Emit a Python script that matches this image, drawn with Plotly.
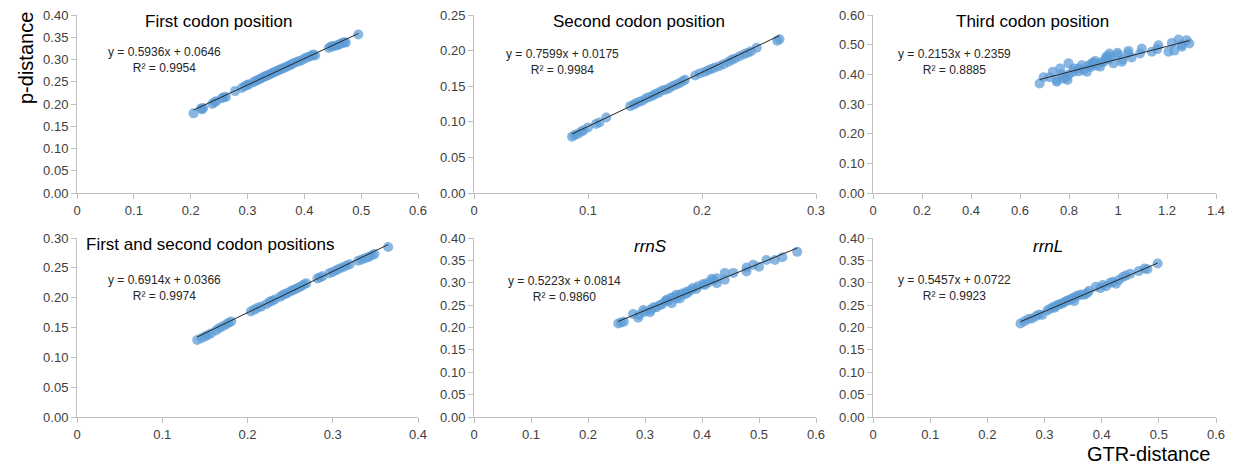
import plotly.graph_objects as go

# ---------------- data ----------------
titles = ["First codon position", "Second codon position", "Third codon position",
          "First and second codon positions", "<i>rrnS</i>", "<i>rrnL</i>"]
slopes = [0.5936, 0.7599, 0.2153, 0.6914, 0.5223, 0.5457]
intercepts = [0.0646, 0.0175, 0.2359, 0.0366, 0.0814, 0.0722]
r2_values = ["0.9954", "0.9984", "0.8885", "0.9974", "0.9860", "0.9923"]
x_max = [0.6, 0.3, 1.4, 0.4, 0.6, 0.6]
x_dtick = [0.1, 0.1, 0.2, 0.1, 0.1, 0.1]
y_max = [0.40, 0.25, 0.60, 0.30, 0.40, 0.40]
y_dtick = [0.05, 0.05, 0.10, 0.05, 0.05, 0.05]

x1 = [0.205, 0.218, 0.220, 0.222, 0.238, 0.242, 0.245, 0.255, 0.258, 0.262, 0.278, 0.290, 0.295, 0.300,
      0.302, 0.310, 0.315, 0.318, 0.322, 0.326, 0.330, 0.333, 0.336, 0.340, 0.343, 0.346, 0.350, 0.353,
      0.356, 0.360, 0.364, 0.368, 0.372, 0.376, 0.380, 0.385, 0.390, 0.395, 0.400, 0.405, 0.410, 0.413,
      0.416, 0.419, 0.443, 0.447, 0.450, 0.455, 0.460, 0.463, 0.467, 0.470, 0.473, 0.495]
y1 = [0.179, 0.190, 0.188, 0.191, 0.200, 0.204, 0.206, 0.213, 0.215, 0.216, 0.229, 0.236, 0.240, 0.243,
      0.244, 0.249, 0.252, 0.254, 0.256, 0.259, 0.262, 0.263, 0.265, 0.267, 0.269, 0.271, 0.273, 0.275,
      0.277, 0.279, 0.281, 0.283, 0.286, 0.288, 0.291, 0.294, 0.296, 0.298, 0.302, 0.305, 0.307, 0.309,
      0.311, 0.309, 0.326, 0.329, 0.330, 0.331, 0.333, 0.335, 0.337, 0.339, 0.338, 0.356]

x2 = [0.086, 0.088, 0.091, 0.094, 0.096, 0.100, 0.107, 0.110, 0.116, 0.137, 0.140, 0.142, 0.145, 0.148,
      0.151, 0.154, 0.157, 0.159, 0.162, 0.165, 0.168, 0.171, 0.174, 0.177, 0.180, 0.183, 0.185, 0.194,
      0.198, 0.202, 0.205, 0.208, 0.211, 0.215, 0.219, 0.223, 0.226, 0.229, 0.233, 0.237, 0.240, 0.243,
      0.248, 0.266, 0.268]
y2 = [0.079, 0.081, 0.083, 0.086, 0.088, 0.092, 0.097, 0.099, 0.106, 0.122, 0.124, 0.126, 0.128, 0.130,
      0.133, 0.135, 0.137, 0.139, 0.141, 0.144, 0.145, 0.147, 0.150, 0.152, 0.154, 0.157, 0.159, 0.165,
      0.168, 0.170, 0.172, 0.174, 0.176, 0.178, 0.181, 0.184, 0.187, 0.189, 0.192, 0.195, 0.197, 0.199,
      0.204, 0.214, 0.216]

x3 = [0.680, 0.696, 0.734, 0.750, 0.764, 0.777, 0.798, 0.794, 0.818, 0.839, 0.853, 0.873, 0.893, 0.907,
      0.927, 0.941, 0.954, 0.965, 0.981, 0.998, 1.015, 1.043, 1.056, 1.097, 1.090, 1.138, 1.165, 1.206,
      1.220, 1.247, 1.260, 1.291, 1.280, 0.820, 0.860, 0.880, 0.900, 0.910, 0.930, 0.950, 0.960, 0.970,
      1.000, 1.020, 1.040, 0.770, 0.750, 0.720, 0.790, 0.800, 0.840, 0.890, 1.160, 1.230, 1.260]
y3 = [0.369, 0.390, 0.409, 0.375, 0.420, 0.386, 0.437, 0.381, 0.409, 0.420, 0.431, 0.409, 0.437, 0.445,
      0.426, 0.442, 0.461, 0.470, 0.437, 0.473, 0.442, 0.479, 0.457, 0.487, 0.470, 0.476, 0.498, 0.476,
      0.506, 0.517, 0.493, 0.504, 0.515, 0.420, 0.415, 0.430, 0.440, 0.430, 0.440, 0.455, 0.450, 0.460,
      0.465, 0.450, 0.470, 0.400, 0.380, 0.390, 0.390, 0.400, 0.410, 0.425, 0.485, 0.480, 0.500]

x4 = [0.141, 0.146, 0.150, 0.153, 0.157, 0.163, 0.167, 0.171, 0.175, 0.178, 0.181, 0.204, 0.208, 0.212,
      0.216, 0.222, 0.226, 0.229, 0.232, 0.238, 0.241, 0.244, 0.247, 0.251, 0.254, 0.257, 0.260, 0.263,
      0.266, 0.269, 0.282, 0.285, 0.288, 0.296, 0.300, 0.304, 0.308, 0.312, 0.316, 0.320, 0.330, 0.334,
      0.338, 0.342, 0.346, 0.349, 0.365]
y4 = [0.129, 0.132, 0.135, 0.137, 0.140, 0.145, 0.149, 0.152, 0.155, 0.158, 0.160, 0.177, 0.180, 0.183,
      0.185, 0.189, 0.193, 0.195, 0.197, 0.201, 0.204, 0.206, 0.208, 0.211, 0.213, 0.215, 0.217, 0.219,
      0.222, 0.224, 0.232, 0.234, 0.236, 0.241, 0.243, 0.246, 0.249, 0.251, 0.254, 0.256, 0.262, 0.264,
      0.266, 0.268, 0.271, 0.273, 0.285]

x5 = [0.253, 0.263, 0.279, 0.288, 0.297, 0.309, 0.315, 0.326, 0.338, 0.347, 0.355, 0.361, 0.373, 0.384,
      0.393, 0.402, 0.417, 0.426, 0.426, 0.440, 0.440, 0.455, 0.478, 0.478, 0.490, 0.500, 0.513, 0.528,
      0.541, 0.567, 0.320, 0.330, 0.335, 0.340, 0.345, 0.350, 0.355, 0.360, 0.365, 0.370, 0.375, 0.380,
      0.390, 0.405, 0.410, 0.420, 0.300, 0.310, 0.290, 0.258]
y5 = [0.209, 0.213, 0.230, 0.222, 0.239, 0.234, 0.245, 0.250, 0.262, 0.254, 0.273, 0.265, 0.280, 0.288,
      0.292, 0.297, 0.309, 0.310, 0.299, 0.322, 0.307, 0.322, 0.334, 0.325, 0.340, 0.336, 0.351, 0.351,
      0.357, 0.369, 0.245, 0.252, 0.258, 0.260, 0.266, 0.268, 0.265, 0.272, 0.276, 0.274, 0.278, 0.283,
      0.286, 0.295, 0.300, 0.305, 0.235, 0.240, 0.228, 0.211]

x6 = [0.258, 0.265, 0.272, 0.278, 0.285, 0.290, 0.296, 0.305, 0.310, 0.315, 0.318, 0.322, 0.326, 0.330,
      0.334, 0.338, 0.342, 0.346, 0.350, 0.352, 0.355, 0.360, 0.365, 0.370, 0.375, 0.378, 0.390, 0.398,
      0.402, 0.408, 0.415, 0.420, 0.425, 0.430, 0.437, 0.442, 0.450, 0.465, 0.475, 0.480, 0.498]
y6 = [0.209, 0.214, 0.219, 0.220, 0.225, 0.229, 0.228, 0.238, 0.242, 0.246, 0.244, 0.250, 0.252, 0.253,
      0.256, 0.259, 0.261, 0.263, 0.266, 0.259, 0.270, 0.272, 0.274, 0.273, 0.277, 0.282, 0.291, 0.288,
      0.295, 0.292, 0.300, 0.302, 0.298, 0.306, 0.313, 0.316, 0.320, 0.326, 0.332, 0.330, 0.343]

xs = [x1, x2, x3, x4, x5, x6]
ys = [y1, y2, y3, y4, y5, y6]

# ---------------- layout geometry (screen pixels) ----------------
W, H = 1237, 466
col_px = [(77, 418), (474, 816), (873, 1216)]
row_px = [(15, 193), (238, 417)]
eq_cx = [164, 562, 955, 164, 564, 955]
eq_y = [51, 53, 53, 279, 280, 279]
title_cx = [218, 639, 1032, 210, 650, 1048]
title_y = [22, 22, 22, 245, 246, 246]


def fx(px):
    return px / W


def fy(py):
    return 1 - py / H


FONT = "Liberation Sans, Arial, sans-serif"
MARKER = "#5B9BD5"
AXIS_COL = "#BFBFBF"
TICK_FONT_COL = "#404040"

fig = go.Figure()
annotations = []
layout_axes = {}

for i in range(6):
    r, c = divmod(i, 3)
    suffix = "" if i == 0 else str(i + 1)
    xa, ya = "x" + suffix, "y" + suffix
    x0p, x1p = col_px[c]
    t0p, b0p = row_px[r]
    layout_axes["xaxis" + suffix] = dict(
        domain=[fx(x0p), fx(x1p)], anchor=ya, range=[0, x_max[i]], dtick=x_dtick[i], tick0=0,
        showgrid=False, zeroline=False, showline=True, linecolor=AXIS_COL, linewidth=1,
        ticks="outside", ticklen=5, tickcolor=AXIS_COL, automargin=False,
        tickfont=dict(family=FONT, size=13, color=TICK_FONT_COL), fixedrange=True)
    layout_axes["yaxis" + suffix] = dict(
        domain=[fy(b0p), fy(t0p)], anchor=xa, range=[0, y_max[i]], dtick=y_dtick[i], tick0=0,
        tickformat=".2f", showgrid=False, zeroline=False, showline=True, linecolor=AXIS_COL,
        linewidth=1, ticks="outside", ticklen=5, tickcolor=AXIS_COL, automargin=False,
        tickfont=dict(family=FONT, size=13, color=TICK_FONT_COL), fixedrange=True)

    fig.add_trace(go.Scatter(x=xs[i], y=ys[i], mode="markers", xaxis=xa, yaxis=ya,
                             marker=dict(size=10, color=MARKER, opacity=0.72, line=dict(width=0)),
                             showlegend=False, hoverinfo="skip", cliponaxis=False))
    lx = [min(xs[i]), max(xs[i])]
    ly = [slopes[i] * v + intercepts[i] for v in lx]
    fig.add_trace(go.Scatter(x=lx, y=ly, mode="lines", xaxis=xa, yaxis=ya,
                             line=dict(color="#262626", width=1), showlegend=False, hoverinfo="skip"))

    annotations.append(dict(
        text=f"y = {slopes[i]:.4f}x + {intercepts[i]:.4f}<br>R² = {r2_values[i]}",
        xref="paper", yref="paper", x=fx(eq_cx[i]), y=fy(eq_y[i] - 8),
        xanchor="center", yanchor="top", showarrow=False, align="center",
        font=dict(family=FONT, size=12, color="#262626")))
    annotations.append(dict(
        text=titles[i], xref="paper", yref="paper", x=fx(title_cx[i]), y=fy(title_y[i]),
        xanchor="center", yanchor="middle", showarrow=False,
        font=dict(family=FONT, size=17, color="#000000")))

annotations.append(dict(text="p-distance", xref="paper", yref="paper", x=fx(26), y=fy(58),
                        xanchor="center", yanchor="middle", textangle=-90, showarrow=False,
                        font=dict(family=FONT, size=20, color="#000000")))
annotations.append(dict(text="GTR-distance", xref="paper", yref="paper", x=fx(1212), y=fy(454),
                        xanchor="right", yanchor="middle", showarrow=False,
                        font=dict(family=FONT, size=20, color="#000000")))

fig.update_layout(width=W, height=H, margin=dict(l=0, r=0, t=0, b=0, autoexpand=False),
                  paper_bgcolor="white", plot_bgcolor="white",
                  annotations=annotations, **layout_axes)

fig.write_html("out.html", config={"displayModeBar": False},
               post_script="document.body.style.margin='0';document.body.style.overflow='hidden';")
